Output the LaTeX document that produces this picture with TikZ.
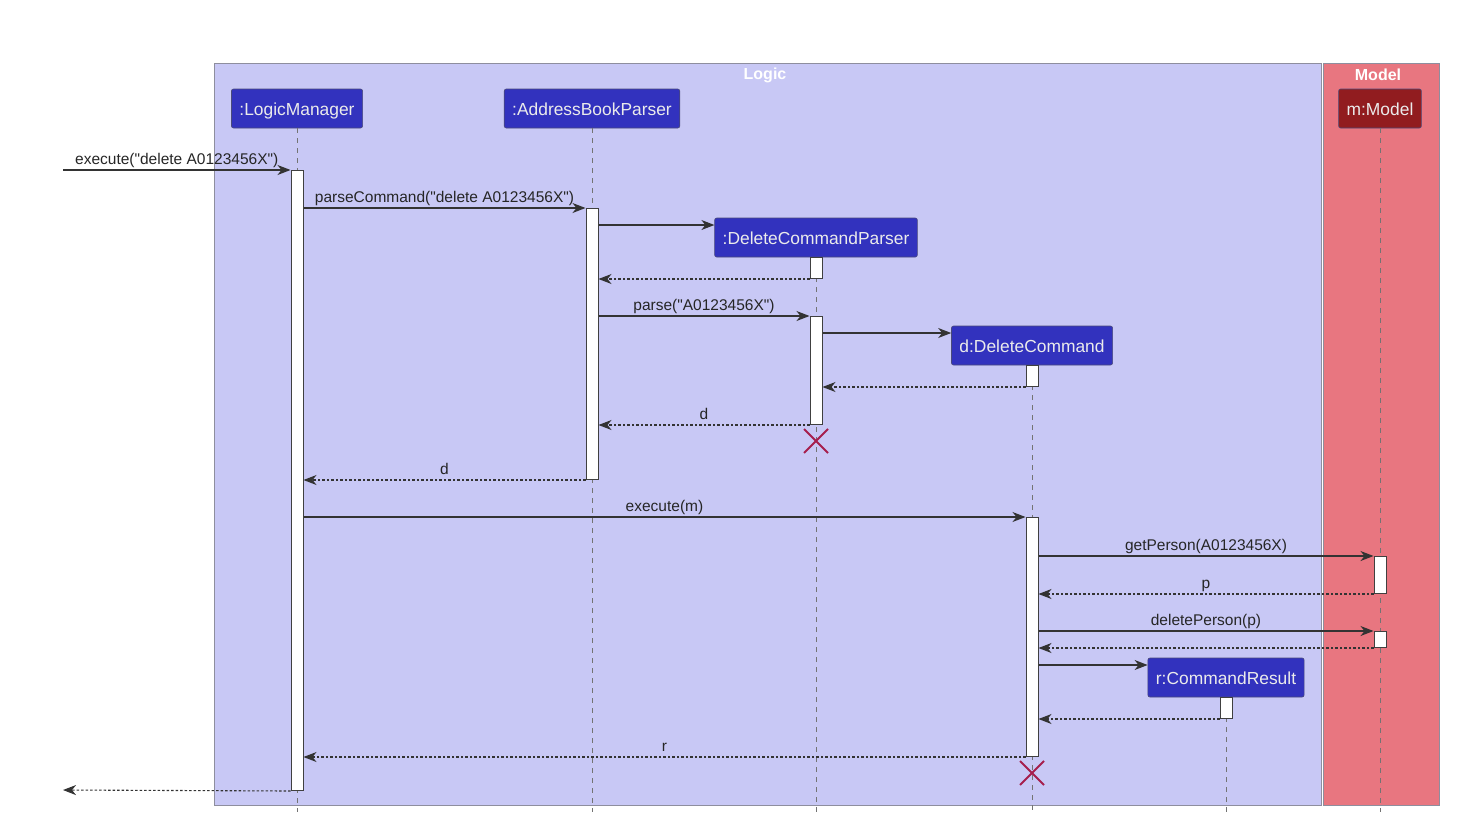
\documentclass[tikz,border=0pt]{standalone}
\usepackage{fontspec}
\setmainfont{Liberation Sans}
\newfontfamily\diafont{Liberation Sans}
\usepackage{xcolor}
\usepackage{tikz}
\usetikzlibrary{arrows.meta, shapes.misc}
\definecolor{logicfill}{HTML}{C8C8F5}
\definecolor{modelfill}{HTML}{E87680}
\definecolor{frameedge}{HTML}{8E8E9E}
\definecolor{partblue}{HTML}{3232BE}
\definecolor{partred}{HTML}{911C1F}
\definecolor{partedge}{HTML}{4A4A7A}
\definecolor{xred}{HTML}{A61E4D}

\begin{document}
\begin{tikzpicture}[
    x=1pt, y=-1pt,
    participant/.style={rectangle, draw=partedge, line width=0.6pt,
                        rounded corners=2pt, fill=partblue,
                        text=white!92!black, inner xsep=8pt,
                        minimum height=39pt, text height=15pt, text depth=2pt,
                        font=\diafont\fontsize{17.4}{20}\selectfont},
    modelpart/.style={participant, fill=partred},
    lifeline/.style={draw=black!55, line width=0.8pt,
                     dash pattern=on 5pt off 5pt},
    bar/.style={rectangle, draw=black!75, fill=white, line width=1pt,
                minimum width=12pt, inner sep=0pt, anchor=north},
    call/.style={draw=black!80, line width=1.1pt,
                 -{Stealth[length=13pt, width=10pt, inset=4pt]}},
    reply/.style={call, dash pattern=on 2.5pt off 2pt},
    msg/.style={font=\diafont\fontsize{15.5}{18}\selectfont, text=black!85,
                above, inner sep=2pt, text depth=3pt},
    destroy/.style={cross out, draw=xred, line width=2pt,
                    minimum size=22pt, inner sep=0pt},
    boxtitle/.style={font=\diafont\bfseries\fontsize{16}{19}\selectfont,
                     text=white}
]
\useasboundingbox (0,0) rectangle (1480,828);

% boxes
\draw[draw=frameedge, fill=logicfill, line width=0.8pt] (214,63) rectangle (1321,805);
\draw[draw=frameedge, fill=modelfill, line width=0.8pt] (1323,63) rectangle (1439,805);
\node[boxtitle] (logictitle) at (765,75) {Logic};
\node[boxtitle] (modeltitle) at (1378,75) {Model};

% participants
\node[participant] (lm)  at (297,108.5)  {:LogicManager};
\node[participant] (abp) at (592,108.5)  {:AddressBookParser};
\node[participant] (dcp) at (816,237.5)  {:DeleteCommandParser};
\node[participant] (dc)  at (1032,345.5) {d:DeleteCommand};
\node[participant] (cr)  at (1226,677.5) {r:CommandResult};
\node[modelpart]   (m)   at (1380,108.5) {m:Model};

% lifelines
\foreach \p in {lm, abp, dcp, dc, cr, m}
    \draw[lifeline] (\p.south) -- (\p.south |- 0,812);

% activations
\node[bar, minimum height=620pt] (lmA)  at (297,170)  {};
\node[bar, minimum height=271pt] (abpA) at (592,208)  {};
\node[bar, minimum height=21pt]  (dcpB) at (816,257)  {};
\node[bar, minimum height=108pt] (dcpA) at (816,316)  {};
\node[bar, minimum height=21pt]  (dcB)  at (1032,365) {};
\node[bar, minimum height=239pt] (dcA)  at (1032,517) {};
\node[bar, minimum height=37pt]  (mA)   at (1380,556) {};
\node[bar, minimum height=16pt]  (mB)   at (1380,631) {};
\node[bar, minimum height=21pt]  (crB)  at (1226,697) {};

\node[destroy] (dcpX) at (816,441)  {};
\node[destroy] (dcX)  at (1032,773) {};

\coordinate (caller) at (63,170);
\coordinate (back)   at (63,790);

% messages
\draw[call] (caller) -- (lmA.north west)
    node[msg, midway] {execute("delete A0123456X")};
\draw[call] (lmA.east |- abpA.north) -- (abpA.north west)
    node[msg, midway] {parseCommand("delete A0123456X")};
\draw[call] (abpA.east |- 0,225) -- (dcp.west |- 0,225);
\draw[reply] (dcpB.south west) -- (abpA.east |- dcpB.south);
\draw[call] (abpA.east |- dcpA.north) -- (dcpA.north west)
    node[msg, midway] {parse("A0123456X")};
\draw[call] (dcpA.east |- 0,333) -- (dc.west |- 0,333);
\draw[reply] (dcB.south west) -- (dcpA.east |- dcB.south);
\draw[reply] (dcpA.south west) -- (abpA.east |- dcpA.south)
    node[msg, midway] {d};
\draw[reply] (abpA.south west) -- (lmA.east |- abpA.south)
    node[msg, midway] {d};
\draw[call] (lmA.east |- dcA.north) -- (dcA.north west)
    node[msg, midway] {execute(m)};
\draw[call] (dcA.east |- mA.north) -- (mA.north west)
    node[msg, midway] {getPerson(A0123456X)};
\draw[reply] (mA.south west) -- (dcA.east |- mA.south)
    node[msg, midway] {p};
\draw[call] (dcA.east |- mB.north) -- (mB.north west)
    node[msg, midway] {deletePerson(p)};
\draw[reply] (mB.south west) -- (dcA.east |- mB.south);
\draw[call] (dcA.east |- 0,665) -- (cr.west |- 0,665);
\draw[reply] (crB.south west) -- (dcA.east |- crB.south);
\draw[reply] (dcA.south west) -- (lmA.east |- dcA.south)
    node[msg, midway] {r};
\draw[reply] (lmA.south west) -- (back);
\end{tikzpicture}
\end{document}
